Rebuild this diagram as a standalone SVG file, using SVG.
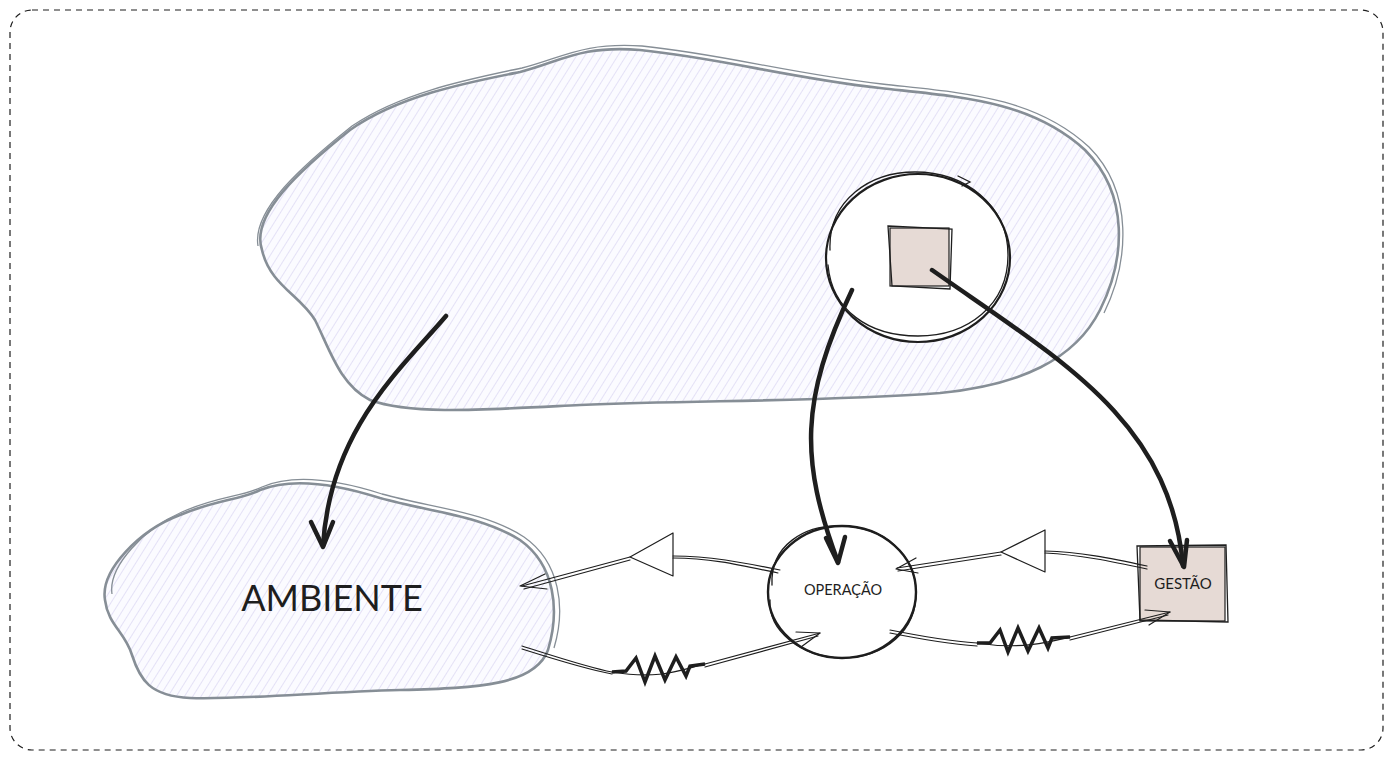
<svg xmlns="http://www.w3.org/2000/svg" width="1394" height="761" viewBox="0 0 1394 761">
<style>
.blob{fill:url(#hatch);stroke:#868e96;stroke-width:2.6}
.blob2{fill:none;stroke:#868e96;stroke-width:1.3}
.sk2{fill:none;stroke:#1e1e1e;stroke-width:1.3;stroke-linecap:round}
.big{fill:none;stroke:#1e1e1e;stroke-width:4.5;stroke-linecap:round;stroke-linejoin:round}
.thin{fill:none;stroke:#1e1e1e;stroke-width:1.2;stroke-linecap:round;stroke-linejoin:round}
.res{fill:none;stroke:#1e1e1e;stroke-width:3.5;stroke-linejoin:miter}
.box{fill:#e6dad5;stroke:#1e1e1e;stroke-width:1.2}
.lbl{font-family:Lato,"Noto Sans",sans-serif;fill:#1e1e1e;text-anchor:middle}
</style>
<defs>
<pattern id="hatch" patternUnits="userSpaceOnUse" width="7" height="7" patternTransform="rotate(32)">
<rect width="7" height="7" fill="#fbfbff"/>
<line x1="0" y1="0" x2="0" y2="7" stroke="#d2ccf0" stroke-width="1.1"/>
</pattern>
</defs>
<rect x="10" y="10" width="1373" height="740" rx="22" fill="none" stroke="#1e1e1e" stroke-width="1.2" stroke-dasharray="6 5"/>

<g id="sistema">
<path class="blob" d="M262,250 C250,215 300,170 350,130 C400,95 470,82 520,72 C560,62 580,45 640,50 C720,58 790,78 880,88 C960,97 1030,100 1085,150 C1130,195 1125,260 1100,310 C1075,360 1020,385 940,393 C820,402 700,400 580,405 C480,410 410,415 370,400 C340,385 330,350 315,320 C300,295 270,285 262,250 Z"/>
<path class="blob2" d="M258,246 C252,210 302,166 352,126 C402,92 470,79 522,68 C562,58 582,42 642,46 C722,54 792,74 882,84 C962,93 1034,96 1089,147 C1134,192 1129,262 1104,313"/>
</g>

<g id="circulo-gestao">
<ellipse cx="918" cy="258" rx="92" ry="84" fill="#fff" stroke="#1e1e1e" stroke-width="2.2"/>
<path class="sk2" d="M830,250 C828,200 870,172 915,172 C965,172 1008,205 1008,255 C1008,305 968,336 918,336 C868,336 832,310 828,265"/>
<path class="sk2" d="M958,176 L970,182 L962,186"/>
<rect class="box" x="890" y="228" width="59" height="58"/>
<path class="sk2" d="M888,226 L952,229 L950,289 L892,286 Z"/>
</g>

<g id="ambiente">
<path class="blob" d="M105,600 C100,570 140,530 180,515 C215,500 240,500 260,490 C290,478 330,482 380,498 C430,512 480,515 520,540 C555,565 560,610 548,650 C535,685 480,688 400,690 C320,692 240,700 190,698 C150,696 140,680 132,655 C125,632 108,625 105,600 Z"/>
<path class="blob2" d="M112,594 C108,566 145,528 182,512 C218,496 242,497 262,487 C292,474 332,478 382,494 C432,508 484,511 524,537 C560,562 566,608 554,648"/>
<text class="lbl" x="332" y="611" font-size="36">AMBIENTE</text>
</g>

<g id="operacao">
<ellipse cx="842" cy="592" rx="74" ry="66" fill="#fff" stroke="#1e1e1e" stroke-width="2.4"/>
<path class="sk2" d="M772,585 C770,545 805,525 840,526 C885,526 915,555 916,592 C917,630 885,658 842,658 C800,657 768,630 770,600"/>
<text class="lbl" x="843" y="595" font-size="14.5">OPERAÇÃO</text>
</g>

<g id="gestao">
<rect class="box" x="1140" y="547" width="85" height="74"/>
<path class="sk2" d="M1137,546 L1226,545 L1228,622 L1140,620 Z"/>
<text class="lbl" x="1183" y="589" font-size="15">GESTÃO</text>
</g>

<g id="conectores">
<path class="big" d="M446,316 C400,370 330,430 323,546"/>
<path class="big" d="M311,522 L323,547 L333,522"/>
<path class="big" d="M852,290 C800,400 800,460 838,562"/>
<path class="big" d="M826,538 L838,563 L845,537"/>
<path class="big" d="M932,270 C1060,360 1170,420 1183,566"/>
<path class="big" d="M1170,541 L1184,567 L1187,540"/>

<path class="thin" d="M780,570 C740,562 710,556 673,556"/>
<path class="thin" d="M778,573 C740,565 710,558 673,558"/>
<path class="thin" d="M673,533 L673,576 L630,557 Z" fill="#fff"/>
<path class="thin" d="M630,557 L522,586"/>
<path class="thin" d="M630,560 L524,589"/>
<path class="thin" d="M545,574 L520,586 L547,589"/>

<path class="thin" d="M522,646 C560,658 590,668 612,672"/>
<path class="thin" d="M522,649 C560,661 590,670 612,674"/>
<path class="thin" d="M612,672 C660,680 680,670 705,664"/>
<path class="thin" d="M705,664 L820,633"/>
<path class="thin" d="M705,667 L818,636"/>
<path class="thin" d="M796,632 L820,633 L801,647"/>
<path class="res" d="M612,672 L626,671 L636,658 L645,682 L655,656 L665,680 L676,657 L686,676 L690,666 L705,664"/>

<path class="thin" d="M1147,566 C1110,558 1080,552 1045,551"/>
<path class="thin" d="M1147,569 C1110,561 1080,555 1045,553"/>
<path class="thin" d="M1045,530 L1045,572 L1001,552 Z" fill="#fff"/>
<path class="thin" d="M1001,552 L897,568"/>
<path class="thin" d="M1001,555 L898,571"/>
<path class="thin" d="M916,558 L896,569 L918,573"/>

<path class="thin" d="M890,630 C920,636 950,641 977,643"/>
<path class="thin" d="M890,633 C920,639 950,644 977,646"/>
<path class="thin" d="M977,643 C1020,650 1050,642 1070,637"/>
<path class="thin" d="M1070,637 L1170,612"/>
<path class="thin" d="M1070,640 L1168,615"/>
<path class="thin" d="M1145,610 L1170,612 L1149,625"/>
<path class="res" d="M977,643 L990,643 L1000,630 L1008,652 L1018,628 L1028,651 L1039,628 L1048,648 L1052,638 L1070,637"/>
</g>
</svg>
